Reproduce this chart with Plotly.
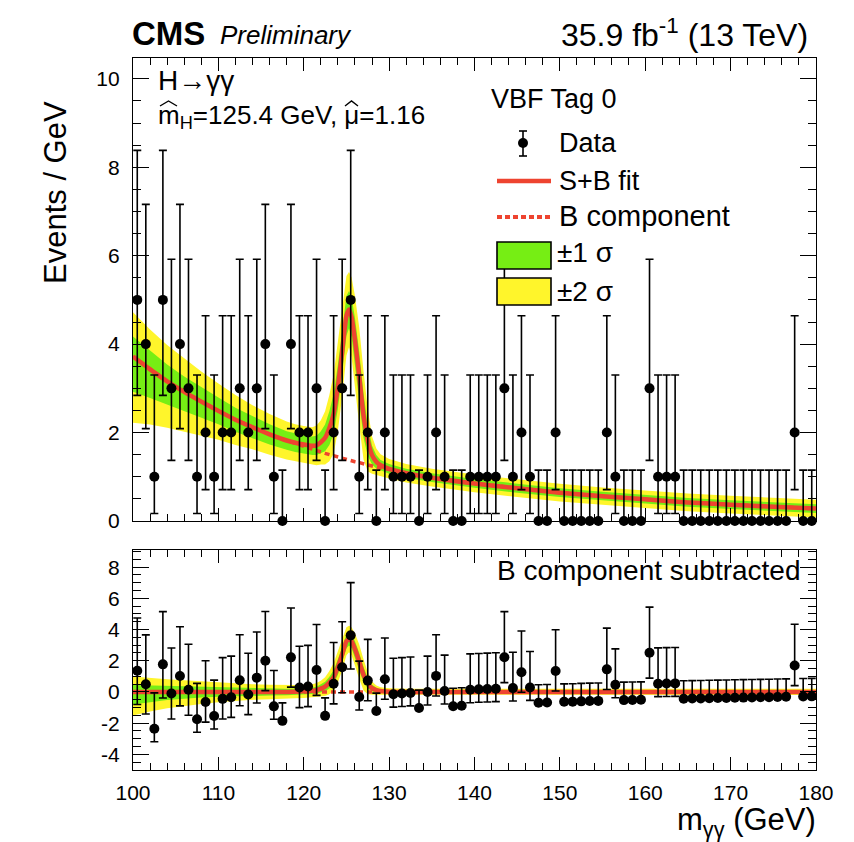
import plotly.graph_objects as go

# ---------------- data ----------------
bin_centers = [100.5 + i for i in range(80)]

counts = [5, 4, 1, 5, 3, 4, 3, 1, 2, 1,
          2, 2, 3, 2, 3, 4, 1, 0, 4, 2,
          2, 3, 0, 2, 3, 5, 1, 2, 0, 2,
          1, 1, 1, 0, 1, 2, 1, 0, 0, 1,
          1, 1, 1, 3, 1, 2, 1, 0, 0, 2,
          0, 0, 0, 0, 0, 2, 1, 0, 0, 0,
          3, 1, 1, 1, 0, 0, 0, 0, 0, 0,
          0, 0, 0, 0, 0, 0, 0, 2, 0, 0]

# Poisson (Garwood) intervals indexed by count, as drawn
pois_lo = [0.0, 0.83, 1.29, 1.63, 1.91, 2.16]
pois_hi = [1.15, 2.30, 2.64, 2.92, 3.16, 3.38]

# background fit evaluated at bin centres
bkg_at_bins = [3.64, 3.50, 3.36, 3.23, 3.10, 2.98, 2.86, 2.75, 2.64, 2.54,
               2.44, 2.34, 2.25, 2.16, 2.08, 2.00, 1.92, 1.85, 1.78, 1.71,
               1.65, 1.59, 1.53, 1.47, 1.42, 1.37, 1.32, 1.27, 1.22, 1.18,
               1.14, 1.10, 1.06, 1.03, 1.00, 0.97, 0.94, 0.91, 0.88, 0.86,
               0.83, 0.81, 0.79, 0.77, 0.75, 0.73, 0.71, 0.69, 0.67, 0.65,
               0.63, 0.62, 0.60, 0.58, 0.57, 0.55, 0.54, 0.52, 0.51, 0.50,
               0.48, 0.47, 0.46, 0.45, 0.43, 0.42, 0.41, 0.40, 0.39, 0.38,
               0.37, 0.36, 0.35, 0.34, 0.33, 0.32, 0.31, 0.30, 0.29, 0.28]

# fit curves
fit_m = [100, 102, 104, 106, 108, 110, 112, 114, 116, 118, 119, 120, 121, 121.5,
         122, 122.5, 123, 123.5, 124, 124.5, 125, 125.3, 125.6, 126, 126.5, 127,
         127.5, 128, 128.5, 129, 130, 132, 135, 140, 145, 150, 155, 160, 165, 170,
         175, 180]
bkg_fit = [3.72, 3.43, 3.16, 2.92, 2.70, 2.49, 2.29, 2.12, 1.96, 1.82, 1.75, 1.69,
           1.62, 1.59, 1.56, 1.53, 1.50, 1.47, 1.44, 1.42, 1.39, 1.38, 1.36, 1.34,
           1.32, 1.29, 1.27, 1.24, 1.22, 1.20, 1.16, 1.08, 0.98, 0.85, 0.74, 0.64,
           0.56, 0.49, 0.42, 0.37, 0.32, 0.28]
sig_fit = [0, 0, 0, 0, 0, 0, 0, 0, 0, 0, 0.02, 0.04, 0.08, 0.12, 0.22, 0.35, 0.6,
           0.95, 1.6, 2.4, 3.25, 3.4, 3.25, 2.75, 1.95, 1.1, 0.55, 0.25, 0.12, 0.06,
           0.02, 0, 0, 0, 0, 0, 0, 0, 0, 0, 0, 0]
band2_up = [1.0, 0.9, 0.82, 0.75, 0.68, 0.62, 0.56, 0.5, 0.46, 0.43, 0.42, 0.42,
            0.42, 0.45, 0.5, 0.6, 0.75, 0.9, 1.0, 1.0, 0.9, 0.85, 0.9, 1.0, 1.1,
            1.0, 0.7, 0.42, 0.3, 0.25, 0.22, 0.21, 0.2, 0.2, 0.2, 0.2, 0.2, 0.2,
            0.2, 0.2, 0.2, 0.2]
band2_dn = [1.5, 1.25, 1.05, 0.9, 0.77, 0.65, 0.57, 0.5, 0.46, 0.43, 0.42, 0.42,
            0.42, 0.45, 0.5, 0.6, 0.75, 0.9, 1.0, 1.0, 0.9, 0.85, 0.9, 1.0, 1.1,
            1.0, 0.7, 0.42, 0.3, 0.25, 0.22, 0.21, 0.2, 0.2, 0.2, 0.2, 0.2, 0.2,
            0.2, 0.2, 0.2, 0.2]
band1_up = [0.45, 0.42, 0.38, 0.35, 0.32, 0.3, 0.27, 0.25, 0.23, 0.21, 0.21, 0.21,
            0.21, 0.22, 0.25, 0.3, 0.38, 0.45, 0.5, 0.5, 0.45, 0.42, 0.45, 0.5,
            0.55, 0.5, 0.35, 0.21, 0.15, 0.12, 0.11, 0.1, 0.1, 0.1, 0.1, 0.1, 0.1,
            0.1, 0.1, 0.1, 0.1, 0.1]
band1_dn = [0.8, 0.65, 0.52, 0.43, 0.36, 0.3, 0.27, 0.25, 0.23, 0.21, 0.21, 0.21,
            0.21, 0.22, 0.25, 0.3, 0.38, 0.45, 0.5, 0.5, 0.45, 0.42, 0.45, 0.5,
            0.55, 0.5, 0.35, 0.21, 0.15, 0.12, 0.11, 0.1, 0.1, 0.1, 0.1, 0.1, 0.1,
            0.1, 0.1, 0.1, 0.1, 0.1]

x_ticks = [100, 110, 120, 130, 140, 150, 160, 170, 180]
y_ticks_top = [0, 2, 4, 6, 8, 10]
y_ticks_bot = [-4, -2, 0, 2, 4, 6, 8]

# ---------------- styling ----------------
RED = "#EE4430"
GREEN = "#76EE14"
YELLOW = "#FFF52B"
FONT = "Liberation Sans, Arial, Helvetica, sans-serif"

W_PX, H_PX = 854, 842
ML, MR, MT, MB = 133, 38, 58, 72
PW = W_PX - ML - MR
PH = H_PX - MT - MB


def px(x):
    return (x - ML) / PW


def py(y):
    return (H_PX - MB - y) / PH


err_lo = [pois_lo[c] for c in counts]
err_hi = [pois_hi[c] for c in counts]
resid = [c - b for c, b in zip(counts, bkg_at_bins)]
sb_fit = [b + s for b, s in zip(bkg_fit, sig_fit)]
zero_fit = [0.0 for _ in fit_m]

fig = go.Figure()


def add_band(center, up, dn, color, xa, ya):
    upper = [c + u for c, u in zip(center, up)]
    lower = [c - d for c, d in zip(center, dn)]
    fig.add_trace(go.Scatter(
        x=fit_m + fit_m[::-1], y=upper + lower[::-1], fill="toself",
        fillcolor=color, line=dict(width=0), mode="lines", hoverinfo="skip",
        showlegend=False, xaxis=xa, yaxis=ya))


for center, xa, ya in [(sb_fit, "x", "y"), (sig_fit, "x2", "y2")]:
    add_band(center, band2_up, band2_dn, YELLOW, xa, ya)
    add_band(center, band1_up, band1_dn, GREEN, xa, ya)

# B component (dashed) and S+B (solid)
fig.add_trace(go.Scatter(x=fit_m, y=bkg_fit, mode="lines",
                         line=dict(color=RED, width=3.5, dash="5px,4px"),
                         showlegend=False, xaxis="x", yaxis="y"))
fig.add_trace(go.Scatter(x=fit_m, y=sb_fit, mode="lines",
                         line=dict(color=RED, width=4.5, shape="spline", smoothing=0.6),
                         showlegend=False, xaxis="x", yaxis="y"))
fig.add_trace(go.Scatter(x=fit_m, y=zero_fit, mode="lines",
                         line=dict(color=RED, width=3.5, dash="5px,4px"),
                         showlegend=False, xaxis="x2", yaxis="y2"))
fig.add_trace(go.Scatter(x=fit_m, y=sig_fit, mode="lines",
                         line=dict(color=RED, width=4.5, shape="spline", smoothing=0.6),
                         showlegend=False, xaxis="x2", yaxis="y2"))

# data points
for yvals, xa, ya in [(counts, "x", "y"), (resid, "x2", "y2")]:
    fig.add_trace(go.Scatter(
        x=bin_centers, y=yvals, mode="markers",
        marker=dict(color="black", size=10),
        error_y=dict(type="data", symmetric=False, array=err_hi, arrayminus=err_lo,
                     color="black", thickness=1.6, width=4),
        cliponaxis=False, showlegend=False, xaxis=xa, yaxis=ya))

TOP_DOM = [py(521), 1.0]
BOT_DOM = [0.0, py(550)]

axis_common = dict(showgrid=False, zeroline=False, showline=True, linecolor="black",
                   linewidth=1.2, mirror="allticks", ticks="inside", tickcolor="black",
                   tickwidth=1.2)
TICKFONT = dict(family=FONT, size=21, color="black")

fig.update_layout(
    width=W_PX, height=H_PX,
    margin=dict(l=ML, r=MR, t=MT, b=MB),
    paper_bgcolor="white", plot_bgcolor="white",
    xaxis=dict(domain=[0, 1], anchor="y", range=[100, 180], tickvals=x_ticks,
               showticklabels=False, ticklen=13,
               minor=dict(ticks="inside", dtick=2, ticklen=7, tickcolor="black"),
               **axis_common),
    yaxis=dict(domain=TOP_DOM, anchor="x", range=[0, 10.47], tickvals=y_ticks_top,
               ticktext=[str(v) for v in y_ticks_top], ticklen=16,
               minor=dict(ticks="inside", dtick=0.5, ticklen=8, tickcolor="black"),
               tickfont=TICKFONT, ticklabelstandoff=8, **axis_common),
    xaxis2=dict(domain=[0, 1], anchor="y2", range=[100, 180], tickvals=x_ticks,
                ticktext=[str(v) for v in x_ticks], ticklen=13,
                minor=dict(ticks="inside", dtick=2, ticklen=7, tickcolor="black"),
                tickfont=TICKFONT, ticklabelstandoff=4, **axis_common),
    yaxis2=dict(domain=BOT_DOM, anchor="x2", range=[-5.0, 9.1], tickvals=y_ticks_bot,
                ticktext=[str(v) for v in y_ticks_bot], ticklen=16,
                minor=dict(ticks="inside", dtick=0.5, ticklen=8, tickcolor="black"),
                tickfont=TICKFONT, ticklabelstandoff=8, **axis_common),
)

ann = []


def text(x, y, s, size, xanchor="left", weight="normal", style="normal"):
    ann.append(dict(x=px(x), y=py(y), xref="paper", yref="paper", text=s,
                    showarrow=False, xanchor=xanchor, yanchor="middle",
                    borderpad=0,
                    font=dict(family=FONT, size=size, color="black",
                              weight=weight, style=style)))


text(131, 33, "CMS", 33, weight="bold")
text(219, 35, "Preliminary", 26, style="italic")
text(809, 33, "35.9 fb<sup>-1</sup> (13 TeV)", 32, xanchor="right")
text(157, 80, "H→γγ", 28)
text(157, 117, "m<sub>H</sub>=125.4 GeV, μ=1.16", 26)
text(490, 99, "VBF Tag 0", 27)
text(558, 143, "Data", 27)
text(558, 181, "S+B fit", 27)
text(558, 216, "B component", 29)
text(556, 253, "±1 σ", 28)
text(556, 291, "±2 σ", 28)
text(802, 570, "B component subtracted", 28, xanchor="right")
text(817, 822, "m<sub>γγ</sub> (GeV)", 31, xanchor="right")
ann.append(dict(x=px(55), y=py(193), xref="paper", yref="paper", text="Events / GeV",
                showarrow=False, xanchor="center", yanchor="middle", textangle=-90,
                font=dict(family=FONT, size=31, color="black")))
fig.update_layout(annotations=ann)

shapes = []


def pline(x0, y0, x1, y1, color="black", width=1.6, dash="solid"):
    shapes.append(dict(type="line", xref="paper", yref="paper", x0=px(x0), y0=py(y0),
                       x1=px(x1), y1=py(y1), line=dict(color=color, width=width, dash=dash)))


def hat(x0, x1, ybase, ytop):
    xm = (x0 + x1) / 2
    shapes.append(dict(type="path", xref="paper", yref="paper",
                       path=f"M {px(x0)},{py(ybase)} L {px(xm)},{py(ytop)} L {px(x1)},{py(ybase)}",
                       line=dict(color="black", width=1.4)))


# hats over m and mu
hat(160, 177, 106, 101)
hat(345, 358, 106, 101)

# legend: data
pline(523, 131, 523, 156)
pline(519, 131, 527, 131)
pline(519, 156, 527, 156)
shapes.append(dict(type="circle", xref="paper", yref="paper", x0=px(518), x1=px(528),
                   y0=py(148), y1=py(138), fillcolor="black", line=dict(color="black", width=0)))
pline(497, 181, 551, 181, color=RED, width=4.5)
pline(497, 217, 551, 217, color=RED, width=4, dash="5px,3px")
shapes.append(dict(type="rect", xref="paper", yref="paper", x0=px(497), x1=px(551),
                   y0=py(269), y1=py(242), fillcolor=GREEN, line=dict(color="black", width=1.6)))
shapes.append(dict(type="rect", xref="paper", yref="paper", x0=px(497), x1=px(551),
                   y0=py(305), y1=py(278), fillcolor=YELLOW, line=dict(color="black", width=1.6)))
fig.update_layout(shapes=shapes)

fig.write_html("out.html", config={"displayModeBar": False},
               post_script="document.body.style.margin='0';document.body.style.overflow='hidden';")
